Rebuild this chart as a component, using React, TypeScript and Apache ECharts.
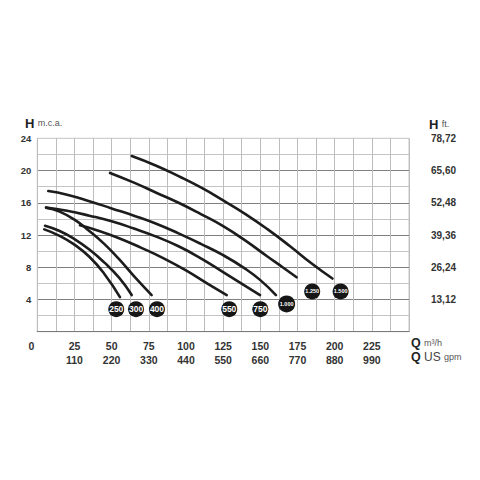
import { useEffect, useRef } from "react";
import * as echarts from "echarts";

// Curvas de bombas: [Q m³/h, H m.c.a.]
const curve250 = [[4.7, 12.7], [15, 11.9], [25, 10.8], [35, 9.3], [45, 7.2], [55.6, 4.3]];
const curve300 = [[5.2, 13.15], [15, 12.5], [25, 11.5], [35, 10.2], [45, 8.6], [55, 6.7], [63.5, 4.55]];
const curve400 = [[5.9, 15.4], [15, 14.9], [25, 13.9], [35, 12.5], [45, 10.9], [55, 9.0], [65, 6.9], [76.9, 4.55]];
const curve550 = [[28.7, 13.2], [40, 12.6], [55, 11.6], [70, 10.4], [85, 9.1], [100, 7.6], [115, 5.9], [127.4, 4.55]];
const curve750 = [[5.9, 15.4], [20, 15.0], [35, 14.4], [50, 13.7], [65, 12.8], [80, 11.8], [95, 10.6], [110, 9.1], [125, 7.4], [136.3, 6.1], [149.8, 4.55]];
const curve1000 = [[7.4, 17.45], [20, 17.0], [35, 16.2], [50, 15.3], [65, 14.4], [80, 13.4], [95, 12.2], [110, 10.9], [125, 9.5], [140, 7.8], [150, 6.4], [160.5, 4.55]];
const curve1250 = [[48.9, 19.7], [65, 18.5], [80, 17.25], [95, 16.0], [110, 14.6], [125, 13.1], [140, 11.3], [155, 9.3], [165, 8.0], [174.4, 6.75]];
const curve1500 = [[63.5, 21.8], [80, 20.6], [95, 19.3], [110, 17.9], [125, 16.3], [140, 14.6], [155, 12.7], [170, 10.6], [185, 8.4], [198.5, 6.6]];

const badgeLabels = ["250", "300", "400", "550", "750", "1.000", "1.250", "1.500"];
const badgeQ = [53.1, 66.4, 80.5, 129.1, 150, 167.7, 184.9, 204];
const badgeH = [2.8, 2.8, 2.8, 2.8, 2.8, 3.45, 5.0, 5.0];

// Etiquetas dos eixos
const qM3hLabels = ["0", "25", "50", "75", "100", "125", "150", "175", "200", "225"];
const qGpmLabels = ["", "110", "220", "330", "440", "550", "660", "770", "880", "990"];
const hMcaLabels = ["", "4", "8", "12", "16", "20", "24"];
const hFtLabels = ["", "13,12", "26,24", "39,36", "52,48", "65,60", "78,72"];

const curves = [curve250, curve300, curve400, curve550, curve750, curve1000, curve1250, curve1500];

const FONT = "'Liberation Sans', Arial, sans-serif";
const LABEL = "#333";

export default function App() {
  const ref = useRef<HTMLDivElement>(null);

  useEffect(() => {
    if (!ref.current) return;
    const chart = echarts.init(ref.current, null, { renderer: "svg" });
    chart.setOption({
      animation: false,
      textStyle: { fontFamily: FONT },
      grid: {
        left: 37.3,
        right: 71,
        top: 138.3,
        bottom: 148.3,
        show: true,
        borderColor: "#c4c4c4",
        borderWidth: 1,
      },
      xAxis: {
        type: "value",
        min: 0,
        max: 250,
        interval: 25,
        axisLine: { show: true, lineStyle: { color: "#7a7a7a", width: 1.2 } },
        axisTick: { show: false },
        minorTick: { show: false, splitNumber: 2 },
        splitLine: { show: true, lineStyle: { color: "#bdbdbd", width: 1 } },
        minorSplitLine: { show: true, lineStyle: { color: "#bdbdbd", width: 1 } },
        axisLabel: {
          margin: 8,
          showMaxLabel: false,
          formatter: (v: number) => {
            const i = Math.round(v / 25);
            if (i >= qM3hLabels.length) return "";
            if (i === 0) return `{z|${qM3hLabels[0]}}`;
            return `{a|${qM3hLabels[i]}}\n{a|${qGpmLabels[i]}}`;
          },
          rich: {
            a: { fontSize: 10.5, fontWeight: "bold", color: LABEL, lineHeight: 13.5, fontFamily: FONT },
            z: { fontSize: 10.5, fontWeight: "bold", color: LABEL, lineHeight: 13.5, padding: [0, 12, 0, 0], fontFamily: FONT },
          },
        },
      },
      yAxis: [
        {
          type: "value",
          min: 0,
          max: 24,
          interval: 4,
          axisLine: { show: false },
          axisTick: { show: false },
          minorTick: { show: false, splitNumber: 2 },
          splitLine: { show: true, showMinLine: false, showMaxLine: false, lineStyle: { color: "#808080", width: 1 } },
          minorSplitLine: { show: true, lineStyle: { color: "#c4c4c4", width: 1 } },
          axisLabel: {
            margin: 6,
            fontSize: 9.5,
            fontWeight: "bold",
            color: LABEL,
            formatter: (v: number) => hMcaLabels[Math.round(v / 4)] ?? "",
          },
        },
        {
          type: "value",
          position: "right",
          min: 0,
          max: 24,
          interval: 4,
          axisLine: { show: false },
          axisTick: { show: false },
          splitLine: { show: false },
          axisLabel: {
            margin: 22,
            fontSize: 10,
            fontWeight: "bold",
            color: LABEL,
            formatter: (v: number) => hFtLabels[Math.round(v / 4)] ?? "",
          },
        },
      ],
      graphic: [
        {
          type: "text",
          x: 25,
          y: 123,
          style: {
            text: "{h|H} {u|m.c.a.}",
            verticalAlign: "middle",
            rich: {
              h: { fontSize: 13, fontWeight: "bold", fill: "#222", fontFamily: FONT },
              u: { fontSize: 9, fill: "#555", fontFamily: FONT },
            },
          },
        },
        {
          type: "text",
          x: 429,
          y: 124,
          style: {
            text: "{h|H} {u|ft.}",
            verticalAlign: "middle",
            rich: {
              h: { fontSize: 13, fontWeight: "bold", fill: "#222", fontFamily: FONT },
              u: { fontSize: 9, fill: "#555", fontFamily: FONT },
            },
          },
        },
        {
          type: "text",
          x: 411,
          y: 343,
          style: {
            text: "{h|Q} {u|m³/h}",
            verticalAlign: "middle",
            rich: {
              h: { fontSize: 12.5, fontWeight: "bold", fill: "#222", fontFamily: FONT },
              u: { fontSize: 9, fill: "#555", fontFamily: FONT },
            },
          },
        },
        {
          type: "text",
          x: 411,
          y: 357,
          style: {
            text: "{h|Q} {m|US} {u|gpm}",
            verticalAlign: "middle",
            rich: {
              h: { fontSize: 12.5, fontWeight: "bold", fill: "#222", fontFamily: FONT },
              m: { fontSize: 12, fill: "#444", fontFamily: FONT },
              u: { fontSize: 9, fill: "#555", fontFamily: FONT },
            },
          },
        },
      ],
      series: [
        ...curves.map((c, i) => ({
          name: badgeLabels[i],
          type: "line",
          data: c,
          smooth: 0.5,
          showSymbol: false,
          silent: true,
          lineStyle: { color: "#1c1c1c", width: 2.6, cap: "round" },
        })),
        {
          type: "scatter",
          symbol: "circle",
          z: 5,
          silent: true,
          data: badgeLabels.map((b, i) => ({
            value: [badgeQ[i], badgeH[i]],
            name: b,
            symbolSize: b === "1.000" ? 17 : 16,
            label: { fontSize: b.length > 3 ? 5.5 : 8.5 },
          })),
          itemStyle: { color: "#161616", opacity: 1 },
          label: {
            show: true,
            position: "inside",
            formatter: "{b}",
            color: "#fff",
            fontWeight: "bold",
            fontFamily: FONT,
          },
        },
      ],
    });
    return () => chart.dispose();
  }, []);

  return <div ref={ref} style={{ position: "fixed", left: 0, top: 0, width: 480, height: 480, background: "#fff" }} />;
}
